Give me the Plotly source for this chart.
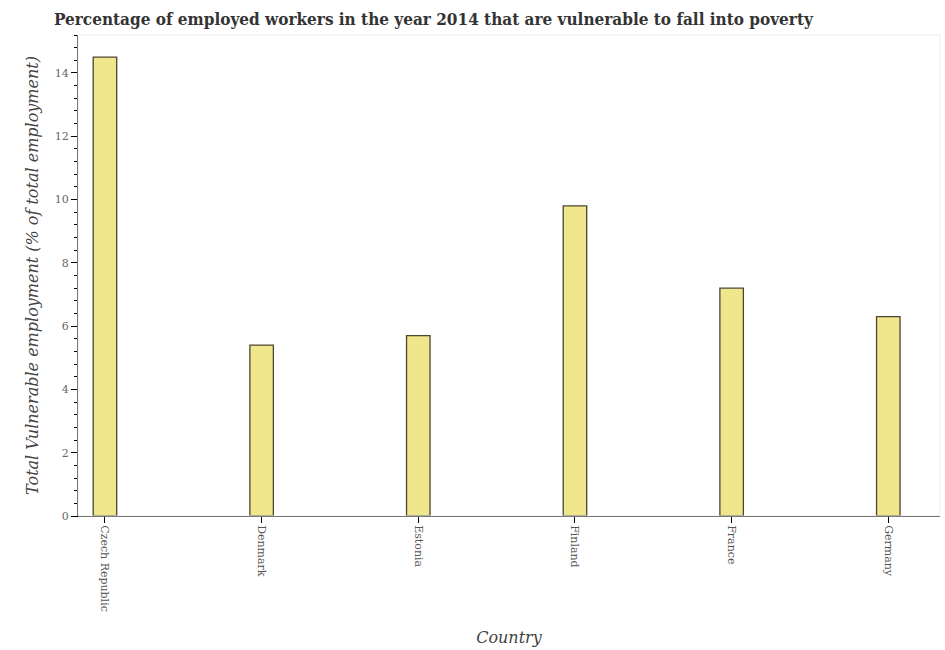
import plotly.graph_objects as go

countries = ["Czech Republic", "Denmark", "Estonia", "Finland", "France", "Germany"]
values = [14.5, 5.4, 5.7, 9.8, 7.2, 6.3]
tick_vals = [0, 2, 4, 6, 8, 10, 12, 14]

fig = go.Figure()
fig.add_trace(go.Bar(
    x=list(range(len(countries))), y=values, width=0.15,
    marker=dict(color="#f0e68c", line=dict(color="#4a4630", width=1.3)),
))

serif = "DejaVu Serif"
fig.update_layout(
    width=945, height=650,
    margin=dict(l=78, r=5, t=35, b=134),
    paper_bgcolor="white", plot_bgcolor="white",
    showlegend=False,
    title=dict(
        text="<b>Percentage of employed workers in the year 2014 that are vulnerable to fall into poverty</b>",
        font=dict(family="DejaVu Serif Condensed", size=17, color="#333333"),
        x=54/945, xanchor="left", y=0.97, yanchor="middle",
    ),
    xaxis=dict(
        tickmode="array", tickvals=list(range(len(countries))), ticktext=countries,
        tickangle=90, range=[-0.172, 5.33],
        showline=True, linecolor="black", linewidth=1,
        ticks="outside", ticklen=6, tickcolor="black",
        tickfont=dict(family=serif, size=11, color="#555555"),
        showgrid=False, zeroline=False,
        title=dict(text="<i>Country</i>", font=dict(family=serif, size=16, color="#444444"), standoff=20),
    ),
    yaxis=dict(
        range=[0, 15.2], tickvals=tick_vals,
        showline=True, linecolor="black", linewidth=1,
        ticks="outside", ticklen=6, tickcolor="black",
        tickfont=dict(family=serif, size=11, color="#666666"),
        minor=dict(dtick=0.4, ticks="outside", ticklen=3, tickcolor="black"),
        showgrid=False, zeroline=False,
        title=dict(text="<i>Total Vulnerable employment (% of total employment)</i>",
                   font=dict(family=serif, size=16, color="#444444"), standoff=12),
    ),
)
fig.add_shape(type="rect", xref="paper", yref="paper", x0=0, x1=1, y0=0, y1=1,
              line=dict(color="#eeeeee", width=1))
fig.write_html("out.html")
